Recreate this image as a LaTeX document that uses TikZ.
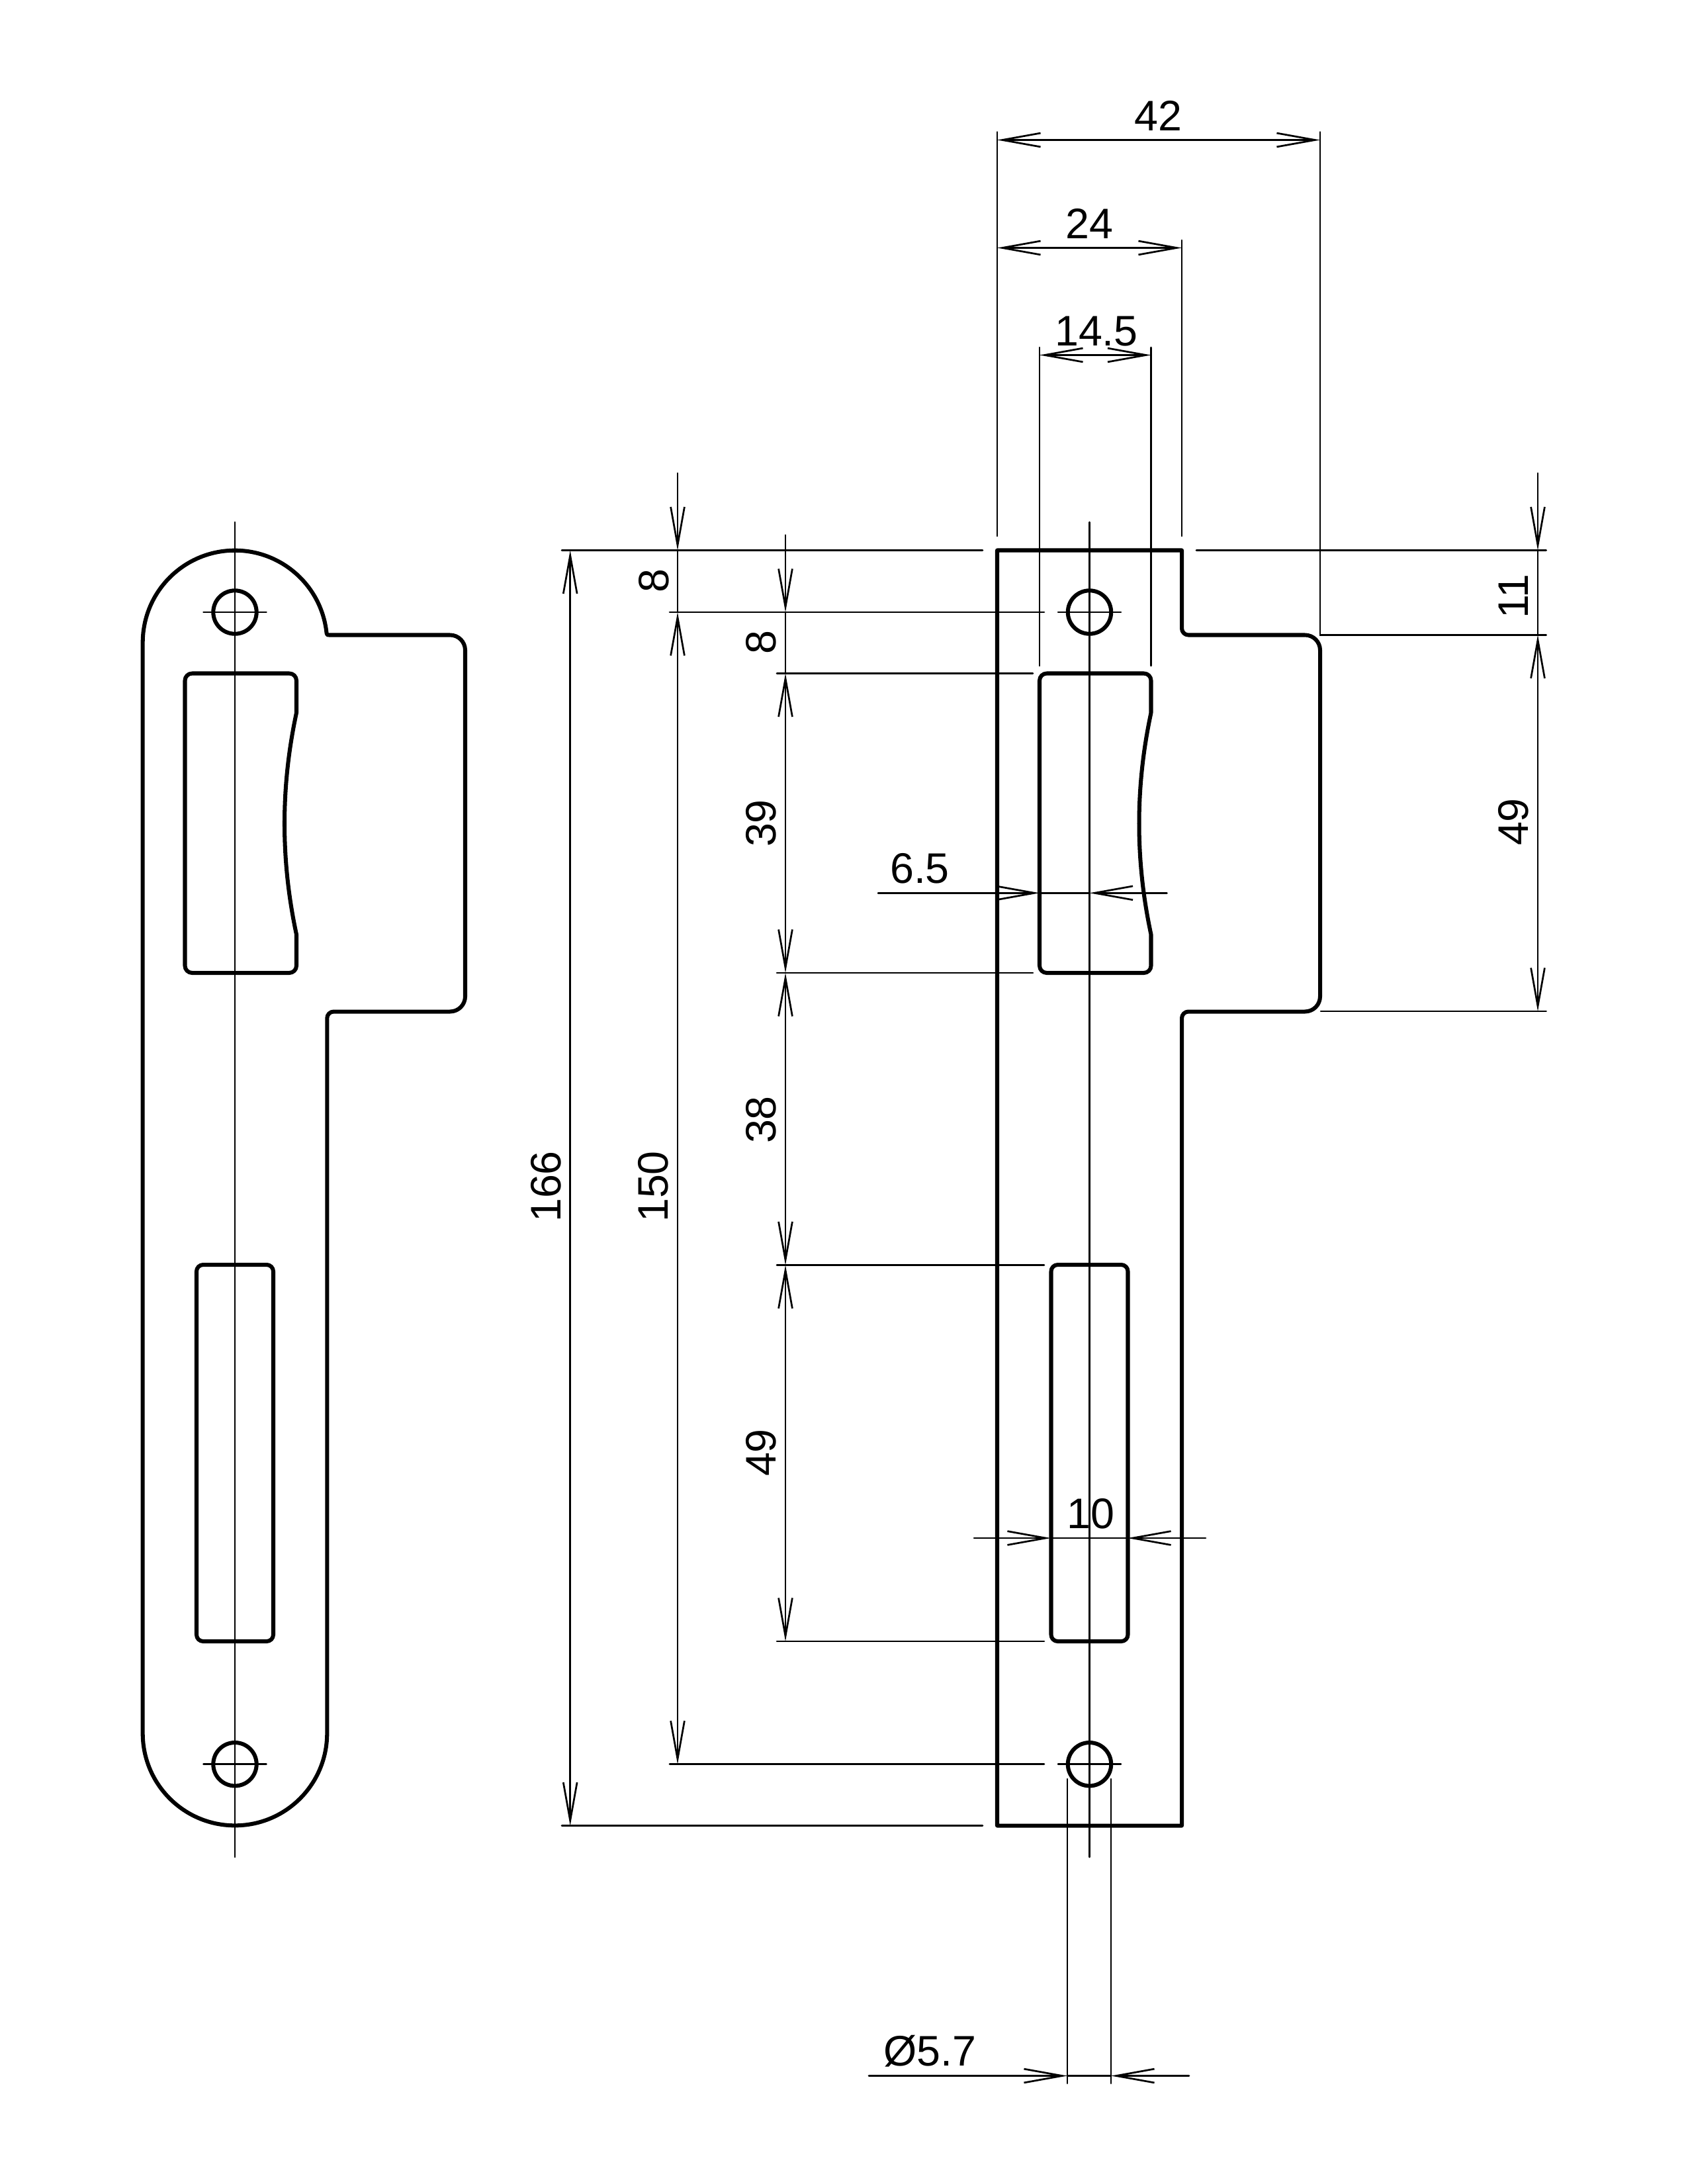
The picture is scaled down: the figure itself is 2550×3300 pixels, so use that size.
\documentclass[tikz,border=0pt]{standalone}
\usepackage{fontspec}
\setmainfont{Liberation Sans}
\usetikzlibrary{arrows.meta}
\tikzset{
  outline/.style={line width=1.45pt, line join=round, line cap=round},
  thinline/.style={line width=0.65pt, line cap=round},
  tipend/.style={thinline, -{Straight Barb[length=13.9pt, width=5pt]}},
  tipboth/.style={thinline, {Straight Barb[length=13.9pt, width=5pt]}-{Straight Barb[length=13.9pt, width=5pt]}},
  dimlabel/.style={inner sep=0pt, anchor=base, font=\fontsize{15.5}{18}\selectfont},
}
\begin{document}
\begin{tikzpicture}[x=0.24pt, y=-0.24pt]
    \useasboundingbox (0,0) rectangle (2550,3300);
    % both plates: centre line, screw holes, slots
    \foreach \cx in {355,1646.5} {
      \begin{scope}[shift={(\cx,0)}]
        \draw[thinline] (0,789) -- (0,2806);
        \foreach \cy in {925,2665.7} {
          \draw[outline] (0,\cy) circle[radius=32.7];
          \draw[thinline] (-47.5,\cy) -- (47.5,\cy);
        }
        \draw[outline] (93,1077) .. controls (69,1189) and (69,1300) .. (93,1412)
          [rounded corners=2.6pt] -- (93,1470) -- (-75.5,1470) -- (-75.5,1017.5) -- (93,1017.5) -- (93,1077);
        \draw[outline, rounded corners=2.4pt] (-58,1911) rectangle (58,2480);
      \end{scope}
    }
    % left plate
    \draw[outline] (215.7,2619) -- (215.7,971) arc[start angle=180, end angle=354, radius=139.3]
      .. controls (494,959.5) .. (499,959.5)
      [rounded corners=5.5pt] -- (703,959.5) -- (703,1528.5)
      [rounded corners=2.4pt] -- (494.3,1528.5)
      [sharp corners] -- (494.3,2619) arc[start angle=0, end angle=180, radius=139.3] -- cycle;
    % right plate
    \draw[outline] (1507,831.5) -- (1786,831.5)
      [rounded corners=2.4pt] -- (1786,959.5)
      [rounded corners=5.5pt] -- (1995,959.5) -- (1995,1528.5)
      [rounded corners=2.4pt] -- (1786,1528.5)
      [sharp corners] -- (1786,2758.5) -- (1507,2758.5) -- cycle;
    % extension lines
    \draw[thinline] (1507,199.5) -- (1507,810);
    \draw[thinline] (1995,199.5) -- (1995,959.3) -- (2336.7,959.3);
    \draw[thinline] (1786,363) -- (1786,810);
    \foreach \ex in {1571,1739.5} \draw[thinline] (\ex,525) -- (\ex,1006);
    \foreach \ex in {1613,1679} \draw[thinline] (\ex,2688) -- (\ex,3148);
    \draw[thinline] (849,831.5) -- (1485,831.5);
    \draw[thinline] (1808,831.5) -- (2336.7,831.5);
    \draw[thinline] (1996,1528) -- (2336.7,1528);
    \draw[thinline] (849,2758.7) -- (1485,2758.7);
    \foreach \ey in {925,2665.7} \draw[thinline] (1012,\ey) -- (1578,\ey);
    \foreach \ey in {1017.5,1470} \draw[thinline] (1174,\ey) -- (1561,\ey);
    \foreach \ey in {1911.5,2480} \draw[thinline] (1174,\ey) -- (1578,\ey);
    % horizontal dimensions
    \draw[tipboth] (1507,211.5) -- (1995,211.5);
    \draw[tipboth] (1507,374.5) -- (1786,374.5);
    \draw[tipboth] (1571,536.5) -- (1739.5,536.5);
    \draw[tipend] (1327,1349.3) -- (1571,1349.3);
    \draw[thinline] (1571,1349.3) -- (1646.5,1349.3);
    \draw[tipend] (1763.5,1349.3) -- (1646.5,1349.3);
    \draw[tipend] (1472,2324) -- (1588,2324);
    \draw[thinline] (1588,2324) -- (1704,2324);
    \draw[tipend] (1822,2324) -- (1704,2324);
    \draw[tipend] (1313,3136.5) -- (1613,3136.5);
    \draw[thinline] (1613,3136.5) -- (1679,3136.5);
    \draw[tipend] (1797,3136.5) -- (1679,3136.5);
    % vertical dimensions
    \draw[tipboth] (861.7,831.5) -- (861.7,2758.7);
    \draw[tipend] (1024,715) -- (1024,831.5);
    \draw[thinline] (1024,831.5) -- (1024,925);
    \draw[tipboth] (1024,925) -- (1024,2665.7);
    \draw[tipend] (1187,808.5) -- (1187,925);
    \draw[thinline] (1187,925) -- (1187,1017.5);
    \draw[tipboth] (1187,1017.5) -- (1187,1470);
    \draw[tipboth] (1187,1470) -- (1187,1911.5);
    \draw[tipboth] (1187,1911.5) -- (1187,2480);
    \draw[tipend] (2324,715) -- (2324,831.5);
    \draw[thinline] (2324,831.5) -- (2324,959.3);
    \draw[tipboth] (2324,959.3) -- (2324,1528);
    % labels
    \node[dimlabel] (width42) at (1750,197) {42};
    \node[dimlabel] (width24) at (1646,360) {24};
    \node[dimlabel] (slot145) at (1657,522) {14.5};
    \node[dimlabel] (slot65) at (1390,1334) {6.5};
    \node[dimlabel] (slot10) at (1648,2309) {10};
    \node[dimlabel] (holedia) at (1405,3121.5) {Ø5.7};
    \node[dimlabel, rotate=90] (height166) at (847,1793) {166};
    \node[dimlabel, rotate=90] (height150) at (1009.5,1793) {150};
    \node[dimlabel, rotate=90] (top8) at (1010,878) {8};
    \node[dimlabel, rotate=90] (gap8) at (1172.6,971) {8};
    \node[dimlabel, rotate=90] (slot39) at (1172.6,1244) {39};
    \node[dimlabel, rotate=90] (gap38) at (1172.6,1692) {38};
    \node[dimlabel, rotate=90] (slot49) at (1172.6,2195) {49};
    \node[dimlabel, rotate=90] (tab11) at (2309,900.7) {11};
    \node[dimlabel, rotate=90] (tab49) at (2309,1242) {49};
  \end{tikzpicture}
\end{document}
